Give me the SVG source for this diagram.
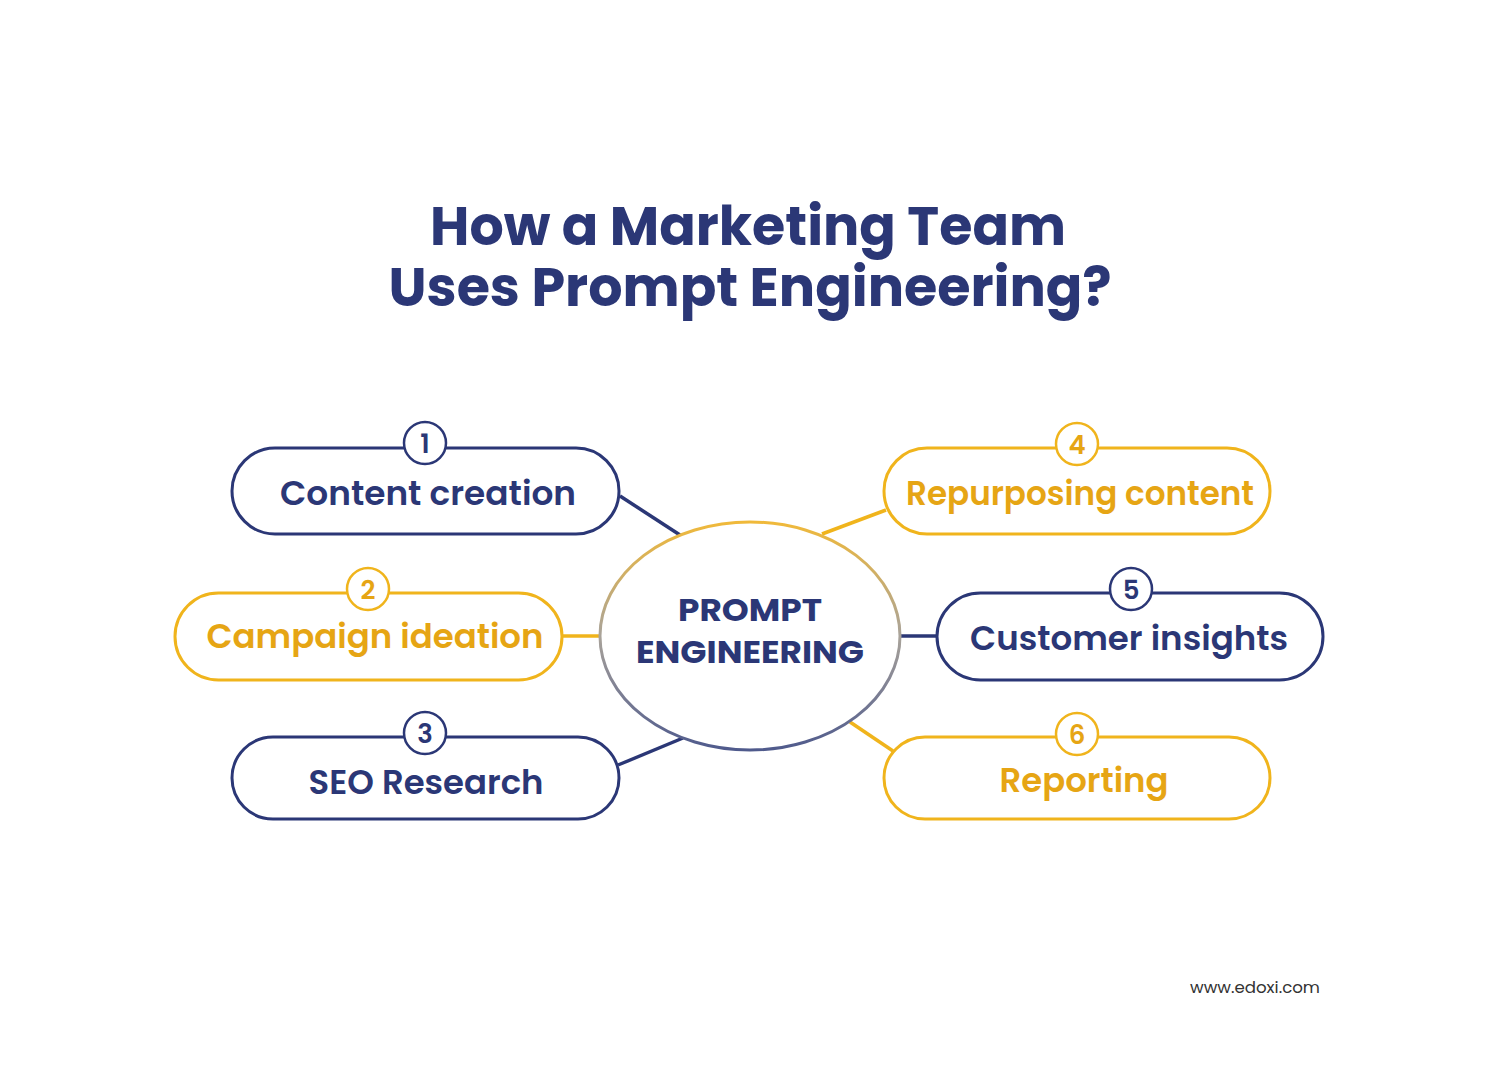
<svg xmlns="http://www.w3.org/2000/svg" width="1500" height="1087" viewBox="0 0 1500 1087">
<defs>
<linearGradient id="eg" x1="0" y1="0" x2="0" y2="1">
<stop offset="0" stop-color="#f0b93a"/>
<stop offset="0.5" stop-color="#a9a39a"/>
<stop offset="1" stop-color="#4f5a8c"/>
</linearGradient>
<style>
.t{font-family:Poppins,"Open Sans","Noto Sans",sans-serif;font-weight:700;text-anchor:middle}
.lbl{font-family:Poppins,"Open Sans","Noto Sans",sans-serif;font-weight:600;font-size:33px;text-anchor:middle}
.num{font-family:Poppins,"Open Sans","Noto Sans",sans-serif;font-weight:600;font-size:26px;text-anchor:middle}
.nb{fill:none;stroke:#2b3776;stroke-width:3}
.gb{fill:none;stroke:#f0b41c;stroke-width:3}
.nc{fill:#fff;stroke:#2b3776;stroke-width:2.5}
.gc{fill:#fff;stroke:#f0b41c;stroke-width:2.5}
.nt{fill:#2b3776}
.gt{fill:#e6a514}
.nl{stroke:#2b3776;stroke-width:3.5}
.gl{stroke:#f0b41c;stroke-width:3.5}
</style>
</defs>
<rect width="1500" height="1087" fill="#fff"/>
<g id="title">
<text class="t nt" x="748" y="245" font-size="54" textLength="636" lengthAdjust="spacingAndGlyphs">How a Marketing Team</text>
<text class="t nt" x="750" y="306" font-size="54" textLength="723" lengthAdjust="spacingAndGlyphs">Uses Prompt Engineering?</text>
</g>
<g id="connectors">
<line class="nl" x1="620" y1="496" x2="680" y2="535"/>
<line class="gl" x1="562" y1="636" x2="601" y2="636"/>
<line class="nl" x1="618" y1="765" x2="683" y2="738"/>
<line class="gl" x1="822" y1="534" x2="886" y2="510"/>
<line class="nl" x1="899" y1="636" x2="938" y2="636"/>
<line class="gl" x1="850" y1="722" x2="893" y2="751"/>
</g>
<g id="center">
<ellipse cx="750" cy="636" rx="150" ry="114" fill="#fff" stroke="url(#eg)" stroke-width="3"/>
<text class="t nt" x="750" y="621" font-size="32" textLength="144" lengthAdjust="spacingAndGlyphs">PROMPT</text>
<text class="t nt" x="750" y="663" font-size="32" textLength="228" lengthAdjust="spacingAndGlyphs">ENGINEERING</text>
</g>
<g id="node1">
<rect class="nb" x="232" y="448" width="387" height="86" rx="43"/>
<circle class="nc" cx="425" cy="443" r="21"/>
<text class="num nt" x="425" y="453">1</text>
<text class="lbl nt" x="428" y="505" textLength="296" lengthAdjust="spacingAndGlyphs">Content creation</text>
</g>
<g id="node2">
<rect class="gb" x="175" y="593" width="387" height="87" rx="43.5"/>
<circle class="gc" cx="368" cy="589" r="21"/>
<text class="num gt" x="368" y="599">2</text>
<text class="lbl gt" x="375" y="648" textLength="337" lengthAdjust="spacingAndGlyphs">Campaign ideation</text>
</g>
<g id="node3">
<rect class="nb" x="232" y="737" width="387" height="82" rx="41"/>
<circle class="nc" cx="425" cy="733" r="21"/>
<text class="num nt" x="425" y="743">3</text>
<text class="lbl nt" x="426" y="794" textLength="235" lengthAdjust="spacingAndGlyphs">SEO Research</text>
</g>
<g id="node4">
<rect class="gb" x="884" y="448" width="386" height="86" rx="43"/>
<circle class="gc" cx="1077" cy="444" r="21"/>
<text class="num gt" x="1077" y="454">4</text>
<text class="lbl gt" x="1080" y="505" textLength="348" lengthAdjust="spacingAndGlyphs">Repurposing content</text>
</g>
<g id="node5">
<rect class="nb" x="937" y="593" width="386" height="87" rx="43.5"/>
<circle class="nc" cx="1131" cy="589" r="21"/>
<text class="num nt" x="1131" y="599">5</text>
<text class="lbl nt" x="1129" y="650" textLength="318" lengthAdjust="spacingAndGlyphs">Customer insights</text>
</g>
<g id="node6">
<rect class="gb" x="884" y="737" width="386" height="82" rx="41"/>
<circle class="gc" cx="1077" cy="734" r="21"/>
<text class="num gt" x="1077" y="744">6</text>
<text class="lbl gt" x="1084" y="792" textLength="169" lengthAdjust="spacingAndGlyphs">Reporting</text>
</g>
<text x="1255" y="993" font-family="Poppins,'Open Sans','Noto Sans',sans-serif" font-size="16" fill="#333" text-anchor="middle" textLength="130" lengthAdjust="spacingAndGlyphs">www.edoxi.com</text>
</svg>
